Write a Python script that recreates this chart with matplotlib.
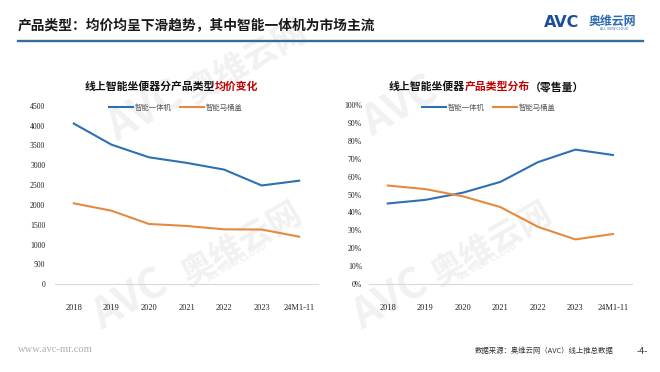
import matplotlib
matplotlib.use("Agg")
import matplotlib.pyplot as plt
from matplotlib.lines import Line2D

plt.rcParams['font.family'] = ['Noto Sans CJK SC', 'DejaVu Sans']

# ---------------- data ----------------
categories = ["2018", "2019", "2020", "2021", "2022", "2023", "24M1-11"]
series_names = ["智能一体机", "智能马桶盖"]
price_onepiece = [4050, 3520, 3200, 3060, 2890, 2490, 2610]
price_cover = [2040, 1855, 1520, 1470, 1385, 1380, 1200]
share_onepiece = [45, 47, 51, 57, 68, 75, 72]
share_cover = [55, 53, 49, 43, 32, 25, 28]
price_ticks = [0, 500, 1000, 1500, 2000, 2500, 3000, 3500, 4000, 4500]
share_ticks = [0, 10, 20, 30, 40, 50, 60, 70, 80, 90, 100]

main_title = "产品类型：均价均呈下滑趋势，其中智能一体机为市场主流"
left_title = [("线上智能坐便器分产品类型", "#111111"), ("均价变化", "#C00000")]
right_title = [("线上智能坐便器", "#111111"), ("产品类型分布", "#C00000"), ("（零售量）", "#111111")]
source_text = "数据来源：奥维云网（AVC）线上推总数据"

BLUE = "#2E70B2"
ORANGE = "#E48A3E"
W, H = 660, 372

fig = plt.figure(figsize=(6.6, 3.72), dpi=100)
fig.patch.set_facecolor("white")

def fx(px):
    return px / W

def fy(py):
    return 1 - py / H

# ---------------- watermarks ----------------
wm_col = "#F1F1F1"
for (x, y, s, fs) in [(100, 150, "AVC", 30), (180, 110, "奥维云网", 24),
                      (85, 338, "AVC", 30), (175, 292, "奥维云网", 24),
                      (355, 145, "AVC", 30), (345, 338, "AVC", 30), (425, 292, "奥维云网", 24)]:
    fig.text(fx(x), fy(y), s, rotation=30, fontsize=fs, color=wm_col,
             fontweight="bold", fontstyle="italic" if s == "AVC" else "normal",
             zorder=-5, ha="left", va="bottom")
for (x, y) in [(205, 284), (455, 284)]:
    fig.text(fx(x), fy(y), "ALL VIEW CLOUD", rotation=30, fontsize=6, color=wm_col,
             fontweight="bold", zorder=-5, ha="left", va="bottom")

# ---------------- header ----------------
fig.text(fx(18), fy(26), main_title, fontsize=9.9, fontweight="bold",
         color="#1a1a1a", ha="left", va="center")
fig.add_artist(Line2D([fx(18), fx(643)], [fy(41), fy(41)], color="#3A6C98", lw=1.7))
fig.text(fx(544), fy(22.5), "AVC", fontsize=11.5, fontweight="bold",
         color="#1C4E97", ha="left", va="center", family=["DejaVu Sans"])
fig.text(fx(589), fy(21.5), "奥维云网", fontsize=8.6, fontweight="bold",
         color="#2C6BB0", ha="left", va="center")
fig.text(fx(614), fy(29.5), "ALL VIEW CLOUD", fontsize=2.6,
         color="#2C6BB0", ha="center", va="center")

# ---------------- footer ----------------
fig.text(fx(18), fy(350), "www.avc-mr.com", fontsize=7.6, color="#B0B0B0",
         ha="left", va="center", family=["Liberation Serif"])
fig.text(fx(613), fy(351), source_text, fontsize=5.3, color="#333333",
         ha="right", va="center")
fig.text(fx(642), fy(351), "-4-", fontsize=6.5, color="#333333",
         ha="center", va="center")

def colored_title(x_left_px, y_px, parts, fs=7.8):
    em_px = fs * 100 / 72.0
    x = x_left_px
    for s, c in parts:
        fig.text(fx(x), fy(y_px), s, fontsize=fs, fontweight="bold", color=c,
                 ha="left", va="center")
        x += len(s) * em_px

def setup(ax, ticks, ylabels, pad_y):
    ax.set_facecolor("none")
    for s in ["top", "right", "left"]:
        ax.spines[s].set_visible(False)
    ax.spines["bottom"].set_color("#D9D9D9")
    ax.spines["bottom"].set_linewidth(0.8)
    ax.set_xlim(-0.5, len(categories) - 0.5)
    ax.set_xticks(range(len(categories)))
    ax.set_xticklabels(categories, fontsize=6, family="Liberation Serif", color="#222222")
    ax.set_yticks(ticks)
    ax.set_yticklabels(ylabels, fontsize=5.6, family="Liberation Serif", color="#222222")
    ax.tick_params(axis="x", length=0, pad=14)
    ax.tick_params(axis="y", length=0, pad=pad_y)

x = list(range(len(categories)))

# ---------------- left chart ----------------
axL = fig.add_axes([fx(55), 1 - 284.3 / H, fx(263), 178.6 / H])
setup(axL, price_ticks, [str(t) for t in price_ticks], 7)
axL.set_ylim(0, 4500)
axL.plot(x, price_onepiece, color=BLUE, lw=1.5, label=series_names[0])
axL.plot(x, price_cover, color=ORANGE, lw=1.5, label=series_names[1])
axL.legend(loc="center", bbox_to_anchor=(fx(176), fy(108)), bbox_transform=fig.transFigure,
           ncol=2, frameon=False, fontsize=5.3, handlelength=3.2, handletextpad=0.3,
           columnspacing=1.2, labelcolor="#595959")
colored_title(85, 87, left_title)

# ---------------- right chart ----------------
axR = fig.add_axes([fx(369), 1 - 284.3 / H, fx(262.7), 179.6 / H])
setup(axR, share_ticks, [f"{t}%" for t in share_ticks], 5)
axR.set_ylim(0, 100)
axR.plot(x, share_onepiece, color=BLUE, lw=1.5, label=series_names[0])
axR.plot(x, share_cover, color=ORANGE, lw=1.5, label=series_names[1])
axR.legend(loc="center", bbox_to_anchor=(fx(489), fy(108)), bbox_transform=fig.transFigure,
           ncol=2, frameon=False, fontsize=5.3, handlelength=3.2, handletextpad=0.3,
           columnspacing=1.2, labelcolor="#595959")
colored_title(389, 87, right_title)

fig.savefig("out.png", dpi=100, facecolor="white")
